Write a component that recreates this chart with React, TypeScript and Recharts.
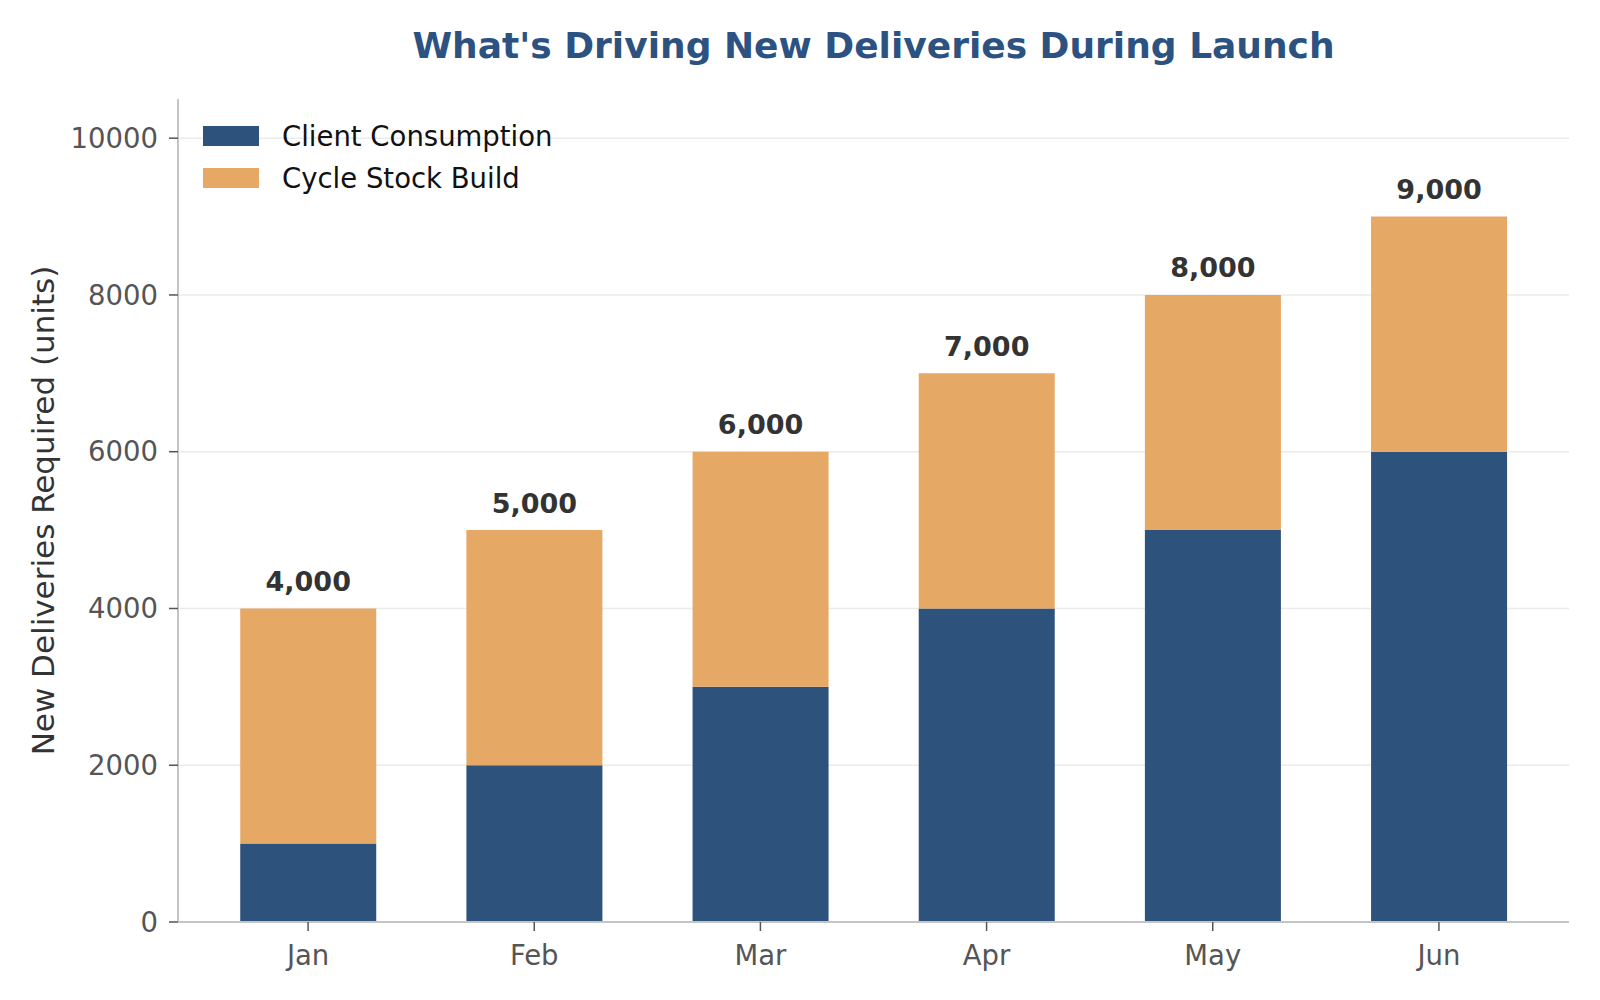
import { BarChart, Bar, XAxis, YAxis, CartesianGrid, Legend, LabelList } from "recharts"

const months = ["Jan", "Feb", "Mar", "Apr", "May", "Jun"]
const clientConsumption = [1000, 2000, 3000, 4000, 5000, 6000]
const cycleStockBuild = [3000, 3000, 3000, 3000, 3000, 3000]
const yTicks = [0, 2000, 4000, 6000, 8000, 10000]

const BLUE = "#2d527c"
const ORANGE = "#e6a865"
const FONT = "'DejaVu Sans', sans-serif"

const data = months.map((month, i) => ({
    month,
    client: clientConsumption[i],
    cycle: cycleStockBuild[i],
}))

const totals = months.map((_, i) => clientConsumption[i] + cycleStockBuild[i])

// etiqueta con el total encima de cada barra apilada
const TotalLabel = (props: any) => {
    const { x, y, width, index } = props
    return (
        <text
            x={x + width / 2}
            y={y - 27}
            textAnchor="middle"
            dominantBaseline="central"
            fontFamily={FONT}
            fontSize={27}
            fontWeight="bold"
            fill="#333333"
        >
            {totals[index].toLocaleString("en-US")}
        </text>
    )
}

const LegendContent = () => {
    const items = [
        { label: "Client Consumption", color: BLUE },
        { label: "Cycle Stock Build", color: ORANGE },
    ]
    return (
        <div style={{ fontFamily: FONT, fontSize: 27.5, color: "#111" }}>
            {items.map((it) => (
                <div key={it.label} style={{ display: "flex", alignItems: "center", height: 42 }}>
                    <div style={{ width: 56, height: 20, backgroundColor: it.color, marginRight: 23 }} />
                    <span>{it.label}</span>
                </div>
            ))}
        </div>
    )
}

export default function App() {
    return (
        <div style={{ position: "absolute", left: 0, top: 0, width: 1600, height: 1000, background: "#fff" }}>
            <div
                style={{
                    position: "absolute",
                    left: 178,
                    width: 1391,
                    top: 26,
                    lineHeight: "40px",
                    textAlign: "center",
                    fontFamily: FONT,
                    fontSize: 36,
                    fontWeight: "bold",
                    color: "#2c5282",
                }}
            >
                What's Driving New Deliveries During Launch
            </div>
            <BarChart
                width={1600}
                height={1000}
                data={data}
                margin={{ top: 99, right: 31, left: 0, bottom: 0 }}
                barCategoryGap="20%"
            >
                <CartesianGrid
                    vertical={false}
                    stroke="#ebebeb"
                    strokeWidth={1.5}
                    horizontalValues={yTicks}
                    syncWithTicks
                />
                <XAxis
                    dataKey="month"
                    height={78}
                    padding={{ left: 17, right: 17 }}
                    tickSize={9}
                    tickMargin={14}
                    axisLine={{ stroke: "#c4c4c4", strokeWidth: 2 }}
                    tickLine={{ stroke: "#555", strokeWidth: 1.5 }}
                    tick={{ fill: "#555", fontSize: 27.5, fontFamily: FONT }}
                />
                <YAxis
                    width={178}
                    domain={[0, 10500]}
                    ticks={yTicks}
                    interval={0}
                    tickSize={9}
                    tickMargin={11}
                    axisLine={{ stroke: "#c4c4c4", strokeWidth: 2 }}
                    tickLine={{ stroke: "#555", strokeWidth: 1.5 }}
                    tick={{ fill: "#555", fontSize: 27.5, fontFamily: FONT }}
                    label={{
                        content: (p: any) => {
                            const vb = p.viewBox
                            const cy = vb.y + vb.height / 2
                            return (
                                <text
                                    x={43}
                                    y={cy}
                                    transform={`rotate(-90, 43, ${cy})`}
                                    textAnchor="middle"
                                    dominantBaseline="central"
                                    fontFamily={FONT}
                                    fontSize={31}
                                    fill="#333"
                                >
                                    New Deliveries Required (units)
                                </text>
                            )
                        },
                    }}
                />
                <Legend
                    layout="horizontal"
                    verticalAlign="middle"
                    align="center"
                    content={<LegendContent />}
                    wrapperStyle={{ top: 115, left: 203, width: 420, height: 84 }}
                />
                <Bar dataKey="client" name="Client Consumption" stackId="a" fill={BLUE} isAnimationActive={false} />
                <Bar dataKey="cycle" name="Cycle Stock Build" stackId="a" fill={ORANGE} isAnimationActive={false}>
                    <LabelList dataKey="cycle" content={<TotalLabel />} />
                </Bar>
            </BarChart>
        </div>
    )
}
